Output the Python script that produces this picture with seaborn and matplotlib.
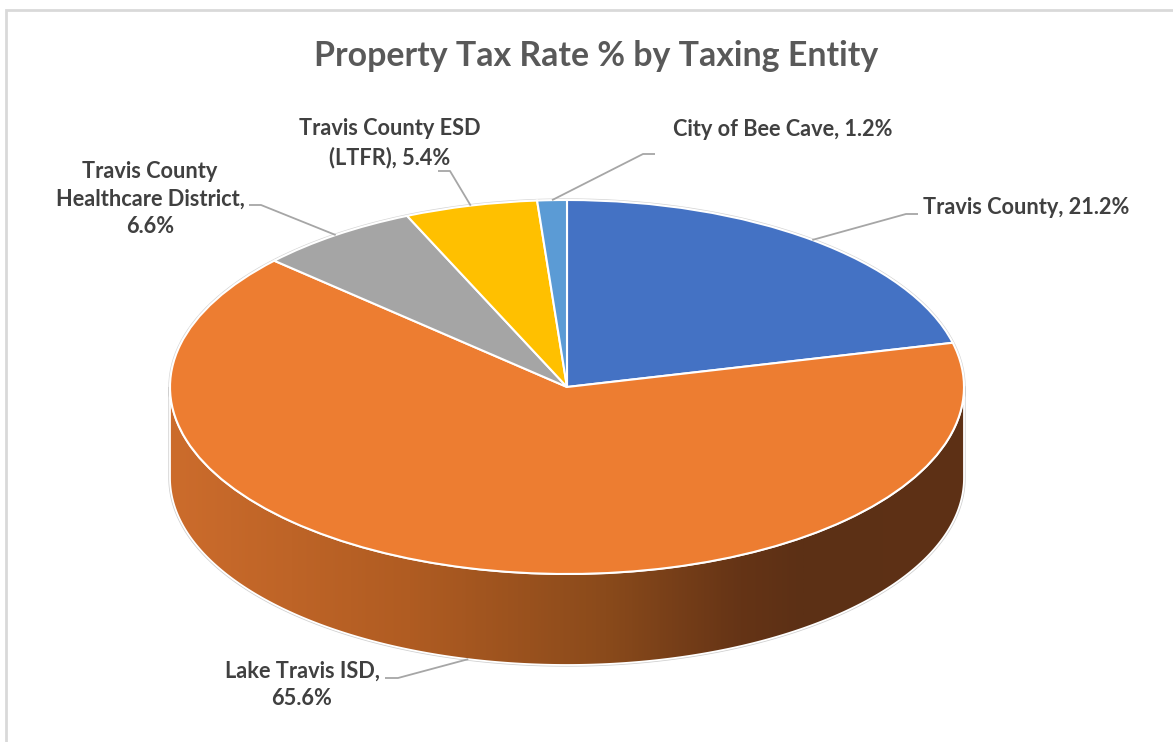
import numpy as np
import matplotlib
matplotlib.use("Agg")
import matplotlib.pyplot as plt
import seaborn as sns
from matplotlib.colors import LinearSegmentedColormap
from matplotlib.patches import Polygon, Rectangle

# ---- data ----
entities = ["Travis County", "Lake Travis ISD", "Travis County\nHealthcare District",
            "Travis County ESD\n(LTFR)", "City of Bee Cave"]
rates = [21.2, 65.6, 6.6, 5.4, 1.2]
separators = [", ", ",\n", ",\n", ", ", ", "]
colors = ["#4472C4", "#ED7D31", "#A5A5A5", "#FFC000", "#5B9BD5"]
title = "Property Tax Rate % by Taxing Entity"

# ---- layout (pixels) ----
W, H = 1173, 742
CX, CY, RX, RY, DEPTH = 567, 387, 397, 187, 91
label_pos = [(1026, 208), (302, 685), (150, 199), (390, 143), (783, 130)]
line_start = [(918, 214), (385, 678), (249, 205), (438, 171), (655, 154)]
elbow_dx = [-12, 13, 12, 12, -12]

sns.set_theme(style="white")
plt.rcParams['font.family'] = ['Lato', 'DejaVu Sans']

fig = plt.figure(figsize=(W / 100, H / 100), dpi=100)
ax = fig.add_axes([0, 0, 1, 1])


def px(x, y):
    return ((x - CX) / RX, (CY - y) / RY)


d = DEPTH / RY

wedges, _ = ax.pie(rates, colors=colors, startangle=90, counterclock=False,
                   radius=1, center=(0, 0), frame=True,
                   wedgeprops=dict(edgecolor='white', linewidth=1.5, zorder=2))

# side wall of the 3D pie (front half belongs to the large slice)
t = np.linspace(np.pi, 2 * np.pi, 300)
top = np.c_[np.cos(t), np.sin(t)]
bot = np.c_[np.cos(t[::-1]), np.sin(t[::-1]) - d]
outline = np.vstack([top, bot])
halo = Polygon(outline, closed=True, facecolor='none', edgecolor='#cfcfcf', lw=2.4, zorder=0.4)
ax.add_patch(halo)
poly = Polygon(outline, closed=True, facecolor='none', edgecolor='white', lw=1.3, zorder=0.6)
ax.add_patch(poly)
cmap = LinearSegmentedColormap.from_list(
    'side', [(0, '#CC6C2C'), (0.3, '#B05C22'), (0.55, '#8A4A1B'), (0.72, '#653416'),
             (0.8, '#5C3015'), (1, '#5E3116')])
grad = np.linspace(0, 1, 500)[None, :]
im = ax.imshow(grad, extent=(-1, 1, -1 - d, 0), aspect='auto', cmap=cmap,
               zorder=0.5, interpolation='bilinear')
im.set_clip_path(poly)

# outer halo of top face
tt = np.linspace(0, 2 * np.pi, 400)
ax.plot(np.cos(tt), np.sin(tt), color='#d5d5d5', lw=2.4, zorder=0.3)

ax.set_aspect('auto')
ax.set_xlim(-CX / RX, (W - CX) / RX)
ax.set_ylim(-(H - CY) / RY, CY / RY)
ax.axis('off')

# labels and leader lines
cum = 90.0
for i, (name, val) in enumerate(zip(entities, rates)):
    span = val / sum(rates) * 360
    mid = np.deg2rad(cum - span / 2)
    cum -= span
    ax_, ay_ = np.cos(mid), np.sin(mid)
    if ay_ < 0:
        ay_ -= d
    sx, sy = line_start[i]
    p0 = px(sx, sy)
    p1 = px(sx + elbow_dx[i], sy)
    ax.plot([p0[0], p1[0], ax_], [p0[1], p1[1], ay_], color='#a6a6a6', lw=1.3,
            zorder=3, solid_capstyle='butt')
    lx, ly = px(*label_pos[i])
    ax.text(lx, ly, f"{name}{separators[i]}{val}%", ha='center', va='center',
            fontsize=15.7, fontweight='bold', color='#404040', linespacing=1.4, zorder=4)

fig.text(596 / W, 1 - 56 / H, title, ha='center', va='center', fontsize=24.4,
         fontweight='bold', color='#595959')

fig.add_artist(Rectangle((5.5 / W, -0.05), 1.2, (H - 9.5) / H + 0.05,
                         transform=fig.transFigure, fill=False,
                         edgecolor='#d9d9d9', lw=2))

fig.savefig("out.png", dpi=100)
